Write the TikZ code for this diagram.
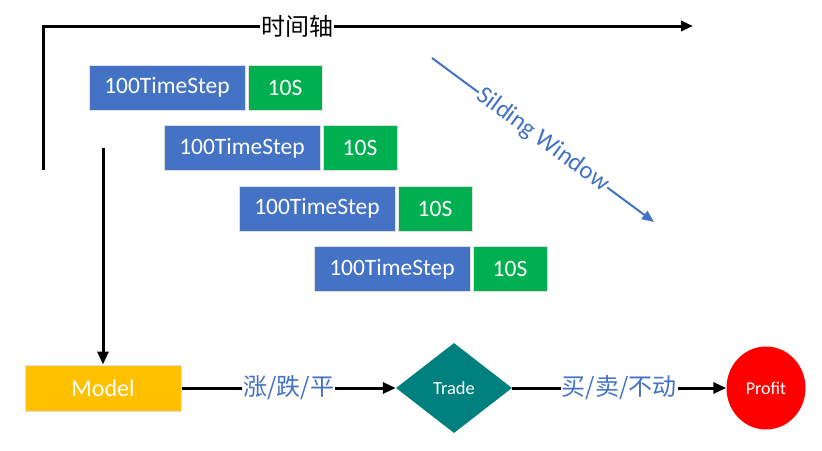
\documentclass[tikz,border=0pt]{standalone}
\usepackage{fontspec}
\setmainfont{Carlito}
\newfontfamily\cjk{Noto Sans CJK SC}
\usetikzlibrary{arrows.meta,shapes.geometric,positioning}

\definecolor{winblue}{HTML}{4472C4}
\definecolor{wingreen}{HTML}{00B050}
\definecolor{wingold}{HTML}{FFC000}
\definecolor{winteal}{HTML}{007F7F}
\definecolor{winred}{HTML}{FF0000}

\tikzset{
  stepbox/.style={fill=winblue, draw=gray!25, line width=1pt, text=white,
    minimum width=156pt, minimum height=45pt, inner sep=0pt,
    font=\fontsize{23.5}{23.5}\selectfont},
  secbox/.style={fill=wingreen, draw=gray!25, line width=1pt, text=white,
    minimum width=74pt, minimum height=45pt, inner sep=0pt,
    font=\fontsize{23.5}{23.5}\selectfont},
  flowline/.style={line width=3pt, -{Triangle[length=13pt,width=11pt]}},
  flowlabel/.style={fill=white, inner sep=1pt, text=winblue,
    font=\cjk\fontsize{24}{24}\selectfont}
}

\begin{document}
\begin{tikzpicture}[x=1pt,y=-1pt]
\useasboundingbox (0,0) rectangle (822,450);

% Time axis
\coordinate (axisstart) at (43,170);
\coordinate (axiscorner) at (43,26);
\coordinate (axisend) at (693,26);
\draw[line width=3pt, -{Triangle[length=12pt,width=10pt]}] (axisstart) -- (axiscorner) -- (axisend);
\node[fill=white, inner sep=1pt, font=\cjk\fontsize{24}{24}\selectfont] (axislabel) at (297,26) {时间轴};

% Windows
\foreach \i in {0,...,3} {
  \node[stepbox] (step\i) at ({167+75*\i},{87.5+60.5*\i}) {100TimeStep};
  \node[secbox, right=2pt of step\i] (sec\i) {10S};
}

% Sliding window arrow
\coordinate (slidestart) at (432,58);
\coordinate (slideend) at (654,222);
\draw[winblue, line width=2pt, -{Triangle[length=12pt,width=10pt]}] (slidestart) --
  node[midway, sloped, fill=white, inner sep=1pt, text=winblue,
    font=\fontsize{25}{25}\selectfont] (slidelabel) {Silding Window} (slideend);

% Flow
\node[fill=wingold, draw=gray!25, line width=1pt, text=white, minimum width=156pt,
  minimum height=46pt, inner sep=0pt, font=\fontsize{24}{24}\selectfont] (model) at (103,388) {Model};
\node[diamond, fill=winteal, text=white, minimum width=116pt, minimum height=90pt,
  inner sep=0pt, font=\fontsize{18.5}{18.5}\selectfont] (trade) at (454,388) {Trade};
\node[ellipse, fill=winred, text=white, minimum width=79pt, minimum height=83pt,
  inner sep=0pt, font=\fontsize{18}{18}\selectfont] (profit) at (766,388) {Profit};

\coordinate (modelin) at (103,148);
\draw[flowline] (modelin) -- (model.north);
\draw[flowline] (model.east) -- node[flowlabel] (signal) {涨/跌/平} (trade.west);
\draw[flowline] (trade.east) -- node[flowlabel] (action) {买/卖/不动} (profit.west);
\end{tikzpicture}
\end{document}
